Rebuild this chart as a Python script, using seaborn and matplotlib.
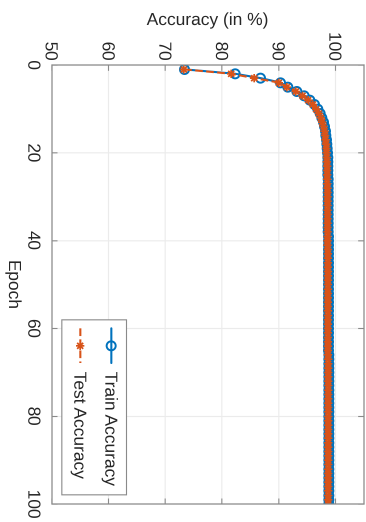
import io
import numpy as np
import pandas as pd
import matplotlib
matplotlib.use("Agg")
import matplotlib.pyplot as plt
import seaborn as sns

epochs = list(range(1, 101))
train_acc = [
    73.40, 82.30, 86.80, 90.30, 91.60, 93.20, 94.50, 95.50, 96.30, 96.90,
    97.30, 97.62, 97.88, 98.08, 98.22, 98.33, 98.42, 98.50, 98.56, 98.61,
    98.63, 98.65, 98.66, 98.67, 98.68, 98.69, 98.70, 98.70, 98.71, 98.71,
    98.72, 98.72, 98.73, 98.73, 98.73, 98.74, 98.74, 98.74, 98.75, 98.75,
    98.75, 98.76, 98.76, 98.76, 98.76, 98.77, 98.77, 98.77, 98.77, 98.78,
    98.78, 98.78, 98.78, 98.78, 98.79, 98.79, 98.79, 98.79, 98.79, 98.80,
    98.80, 98.80, 98.80, 98.80, 98.80, 98.81, 98.81, 98.81, 98.81, 98.81,
    98.81, 98.82, 98.82, 98.82, 98.82, 98.82, 98.82, 98.82, 98.83, 98.83,
    98.83, 98.83, 98.83, 98.83, 98.83, 98.84, 98.84, 98.84, 98.84, 98.84,
    98.84, 98.84, 98.85, 98.85, 98.85, 98.85, 98.85, 98.85, 98.85, 98.85,
]
test_acc = [
    73.30, 81.60, 85.70, 90.00, 91.40, 93.00, 94.20, 95.20, 96.00, 96.60,
    97.05, 97.40, 97.68, 97.90, 98.05, 98.17, 98.27, 98.35, 98.41, 98.45,
    98.48, 98.50, 98.52, 98.53, 98.54, 98.55, 98.56, 98.57, 98.57, 98.58,
    98.58, 98.59, 98.59, 98.60, 98.60, 98.61, 98.61, 98.61, 98.62, 98.62,
    98.62, 98.63, 98.63, 98.63, 98.64, 98.64, 98.64, 98.64, 98.65, 98.65,
    98.65, 98.65, 98.66, 98.66, 98.66, 98.66, 98.67, 98.67, 98.67, 98.67,
    98.67, 98.68, 98.68, 98.68, 98.68, 98.68, 98.69, 98.69, 98.69, 98.69,
    98.69, 98.70, 98.70, 98.70, 98.70, 98.70, 98.70, 98.71, 98.71, 98.71,
    98.71, 98.71, 98.71, 98.72, 98.72, 98.72, 98.72, 98.72, 98.72, 98.73,
    98.73, 98.73, 98.73, 98.73, 98.73, 98.74, 98.74, 98.74, 98.74, 98.74,
]
x_ticks = [0, 20, 40, 60, 80, 100]
y_ticks = [50, 60, 70, 80, 90, 100]

sns.set_theme(style="whitegrid")
plt.rcParams["font.family"] = ["Liberation Sans", "DejaVu Sans"]
plt.rcParams["font.size"] = 12.5

df = pd.DataFrame({"Epoch": epochs, "Train": train_acc, "Test": test_acc})

fig = plt.figure(figsize=(5.22, 3.66), dpi=100)
fig.patch.set_facecolor("white")
ax = fig.add_axes([0.1245, 0.142, 0.9655 - 0.1245, 0.9945 - 0.142])
ax.set_facecolor("white")

sns.lineplot(data=df, x="Epoch", y="Train", ax=ax, color="#0072BD",
             marker="o", markersize=6.5, markerfacecolor="none",
             markeredgecolor="#0072BD", markeredgewidth=1.4,
             linewidth=1.5, label="Train Accuracy")
sns.lineplot(data=df, x="Epoch", y="Test", ax=ax, color="#D95319",
             marker=(8, 2, 0), markersize=6, markeredgewidth=1.2,
             markeredgecolor="#D95319", linestyle="--", dashes=(3, 3),
             linewidth=1.5, label="Test Accuracy")

ax.set_xlim(0, 100)
ax.set_ylim(50, 105)
ax.set_xticks(x_ticks)
ax.set_yticks(y_ticks)
ax.set_xticklabels([str(t) for t in x_ticks])
ax.set_yticklabels([str(t) for t in y_ticks])
ax.grid(True, color="#ebebeb", linewidth=0.8)
for s in ax.spines.values():
    s.set_visible(True)
    s.set_color("#8a8a8a")
    s.set_linewidth(0.9)
ax.tick_params(axis="both", direction="in", length=4, width=0.8,
               colors="#8a8a8a", labelcolor="#262626", labelsize=12.5,
               top=True, right=True, bottom=True, left=True)
ax.tick_params(axis="x", pad=8)
ax.tick_params(axis="y", pad=3)
ax.set_xlabel("Epoch", fontsize=12.5, color="#262626", labelpad=2)
ax.set_ylabel("Accuracy (in %)", fontsize=12.5, color="#262626", labelpad=2)

leg = ax.legend(loc="lower right", bbox_to_anchor=(0.979, 0.032),
                borderaxespad=0.0,
                frameon=True, fancybox=False, framealpha=1,
                edgecolor="#8a8a8a", fontsize=12.5, handlelength=2.0,
                borderpad=0.5, labelspacing=0.85, handletextpad=0.5)
leg.get_frame().set_linewidth(0.8)
for t in leg.get_texts():
    t.set_color("#262626")

# render at 3x and downsample (smooth sub-pixel marker placement)
SS = 3
buf = io.BytesIO()
fig.savefig(buf, format="png", dpi=100 * SS, facecolor="white")
buf.seek(0)
img = plt.imread(buf)[:, :, :3]
h, w = img.shape[0] // SS, img.shape[1] // SS
img = img[:h * SS, :w * SS].reshape(h, SS, w, SS, 3).mean(axis=(1, 3))
rot = np.rot90(img, k=-1)
plt.imsave("out.png", np.clip(rot, 0, 1))
